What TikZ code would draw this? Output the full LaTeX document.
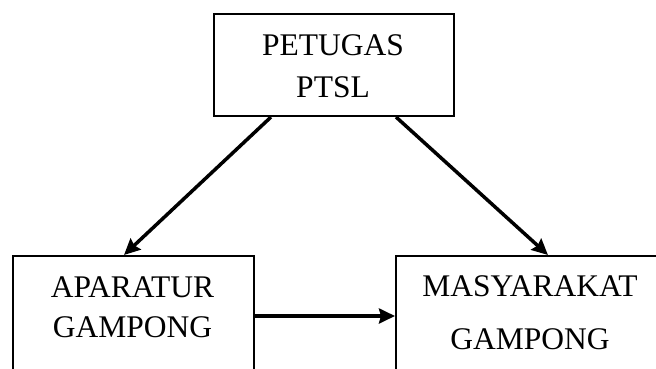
\documentclass[tikz,border=0pt]{standalone}
\usepackage{fontspec}
\setmainfont{Liberation Serif}
\usetikzlibrary{arrows.meta}
\begin{document}
\begin{tikzpicture}[x=1pt,y=-1pt,
    box/.style={draw,line width=2pt,inner sep=0pt,anchor=north west},
    boxtext/.style={align=center,inner sep=0pt,font=\fontsize{31.5}{42}\selectfont},
    flow/.style={line width=3.5pt,-{Stealth[length=16pt,width=15pt,inset=2pt]}}]
                        \clip (0,0) rectangle (656,369);
                        \node [box,minimum width=240,minimum height=102] (petugas) at (213,13) {};
                        \node [box,minimum width=241,minimum height=120] (aparatur) at (12,255) {};
                        \node [box,minimum width=270,minimum height=120] (masyarakat) at (395,255) {};

                        \node [boxtext] (petugastext) at (333,66) {PETUGAS\\PTSL};
                        \node [boxtext,font=\fontsize{31.5}{40}\selectfont] (aparaturtext) at (132.5,307) {APARATUR\\GAMPONG};
                        \node [boxtext] (masyarakattext) at (530,313) {MASYARAKAT\\[11pt]GAMPONG};

                        \draw [flow] ([xshift=-63]petugas.south) -- ([xshift=-9.5]aparatur.north);
                        \draw [flow] ([xshift=62]petugas.south) -- ([xshift=17]masyarakat.north);
                        \draw [flow] (aparatur.east) -- (masyarakat.west);
                    \end{tikzpicture}
\end{document}
